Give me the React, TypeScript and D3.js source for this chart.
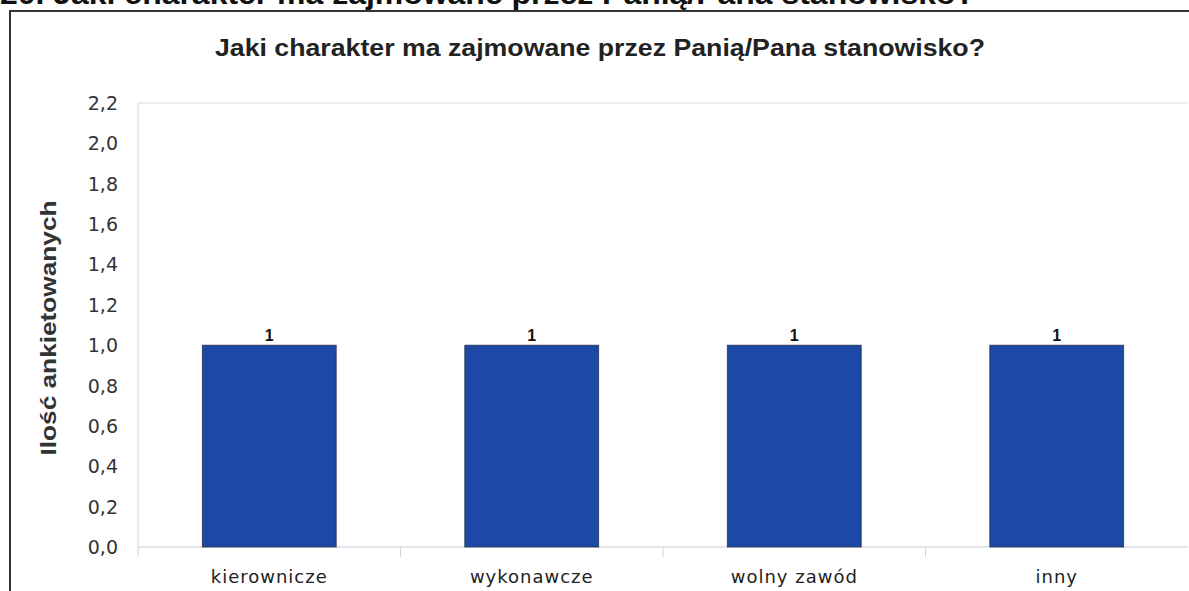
import React, { useEffect, useRef } from 'react'
import * as d3 from 'd3'

const categories = ['kierownicze', 'wykonawcze', 'wolny zawód', 'inny']
const values = [1, 1, 1, 1]
const yTicks = [0, 0.2, 0.4, 0.6, 0.8, 1.0, 1.2, 1.4, 1.6, 1.8, 2.0, 2.2]

const heading = '20. Jaki charakter ma zajmowane przez Panią/Pana stanowisko?'
const chartTitle = 'Jaki charakter ma zajmowane przez Panią/Pana stanowisko?'
const yTitle = 'Ilość ankietowanych'

const App = () => {
	const ref = useRef<SVGSVGElement>(null)
	const width = 1189,
		height = 591

	useEffect(() => {
		const svg = d3.select(ref.current)
		svg.selectAll('*').remove()

		const left = 138,
			right = 1188,
			top = 103,
			bottom = 547

		const x = d3.scaleBand().domain(categories).range([left, right]).paddingInner(0.49).paddingOuter(0.245)
		const xStep = d3.scaleBand().domain(categories).range([left, right])
		const y = d3.scaleLinear().domain([0, 2.2]).range([bottom, top])

		// heading cut at top of the page (only its lower part shows)
		svg.append('text')
			.attr('x', 0)
			.attr('y', 4)
			.attr('font-family', 'Liberation Sans, Arial, sans-serif')
			.attr('font-weight', 'bold')
			.attr('font-size', 29)
			.attr('fill', '#111')
			.attr('textLength', 975)
			.attr('lengthAdjust', 'spacingAndGlyphs')
			.text(heading)

		// outer frame
		svg.append('line').attr('x1', 10).attr('x2', width).attr('y1', 11).attr('y2', 11)
			.attr('stroke', '#333').attr('stroke-width', 2)
		svg.append('line').attr('x1', 10).attr('x2', 10).attr('y1', 10).attr('y2', height)
			.attr('stroke', '#333').attr('stroke-width', 2)

		// title
		svg.append('text')
			.attr('x', 600)
			.attr('y', 56)
			.attr('text-anchor', 'middle')
			.attr('font-family', 'Liberation Sans, Arial, sans-serif')
			.attr('font-weight', 'bold')
			.attr('font-size', 23)
			.attr('fill', '#222')
			.attr('textLength', 770)
			.attr('lengthAdjust', 'spacingAndGlyphs')
			.text(chartTitle)

		// plot area border (top + left)
		svg.append('line').attr('x1', left).attr('x2', right).attr('y1', top).attr('y2', top)
			.attr('stroke', '#d8dce4').attr('stroke-width', 1)
		svg.append('line').attr('x1', left).attr('x2', left).attr('y1', top).attr('y2', bottom + 10)
			.attr('stroke', '#d0d4dc').attr('stroke-width', 1)

		// x axis line and ticks between categories
		svg.append('line').attr('x1', left).attr('x2', right).attr('y1', bottom).attr('y2', bottom)
			.attr('stroke', '#c8ccd6').attr('stroke-width', 1.2)
		svg.selectAll('.xtick')
			.data(categories.slice(1))
			.enter()
			.append('line')
			.attr('x1', d => xStep(d))
			.attr('x2', d => xStep(d))
			.attr('y1', bottom)
			.attr('y2', bottom + 10)
			.attr('stroke', '#d0d4dc')

		// y tick labels
		svg.selectAll('.ylab')
			.data(yTicks)
			.enter()
			.append('text')
			.attr('x', 118)
			.attr('y', d => y(d) + 7)
			.attr('text-anchor', 'end')
			.attr('font-family', 'DejaVu Sans, Verdana, sans-serif')
			.attr('font-size', 19)
			.attr('fill', '#333')
			.text(d => d3.format('.1f')(d).replace('.', ','))

		// y title
		svg.append('text')
			.attr('transform', 'translate(56,328) rotate(-90)')
			.attr('text-anchor', 'middle')
			.attr('font-family', 'Liberation Sans, Arial, sans-serif')
			.attr('font-weight', 'bold')
			.attr('font-size', 22)
			.attr('fill', '#333')
			.attr('textLength', 255)
			.attr('lengthAdjust', 'spacingAndGlyphs')
			.text(yTitle)

		// bars
		svg.selectAll('.bar')
			.data(values)
			.enter()
			.append('rect')
			.attr('x', (d, i) => x(categories[i]))
			.attr('y', d => y(d))
			.attr('width', x.bandwidth())
			.attr('height', d => bottom - y(d))
			.attr('fill', '#1c48a6')
			.attr('stroke', '#2a3550')
			.attr('stroke-width', 0.8)

		// value labels
		svg.selectAll('.val')
			.data(values)
			.enter()
			.append('text')
			.attr('x', (d, i) => x(categories[i]) + x.bandwidth() / 2)
			.attr('y', d => y(d) - 4)
			.attr('text-anchor', 'middle')
			.attr('font-family', 'Liberation Sans, Arial, sans-serif')
			.attr('font-weight', 'bold')
			.attr('font-size', 16)
			.attr('fill', '#111')
			.text(d => d)

		// category labels
		svg.selectAll('.cat')
			.data(categories)
			.enter()
			.append('text')
			.attr('x', d => x(d) + x.bandwidth() / 2)
			.attr('y', 583)
			.attr('text-anchor', 'middle')
			.attr('font-family', 'DejaVu Sans, Verdana, sans-serif')
			.attr('font-size', 18)
			.attr('letter-spacing', 1)
			.attr('fill', '#222')
			.text(d => d)
	}, [])

	return (
		<svg
			ref={ref}
			width={width}
			height={height}
			style={{ position: 'absolute', left: 0, top: 0, background: '#fff' }}
		></svg>
	)
}

export default App
